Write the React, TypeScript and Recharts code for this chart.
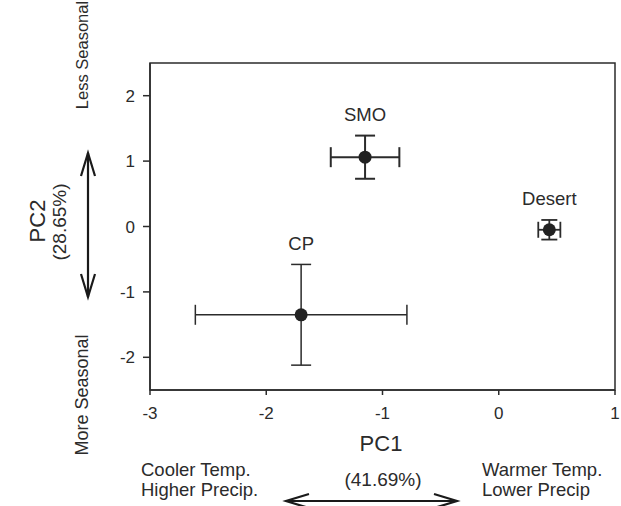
import React from 'react';
import { ScatterChart, Scatter, XAxis, YAxis, ErrorBar, ReferenceArea } from 'recharts';

const sites = ['SMO', 'CP', 'Desert'];
const pc1 = [-1.15, -1.7, 0.435];
const pc2 = [1.06, -1.35, -0.05];
const pc1Err = [0.295, 0.91, 0.095];
const pc2Err = [0.33, 0.77, 0.15];
const errWidths = [2, 1.5, 1.8];
const capWidths = [10, 10, 8];
const xTicks = [-3, -2, -1, 0, 1];
const yTicks = [-2, -1, 0, 1, 2];
const xDomain: [number, number] = [-3, 1];
const yDomain: [number, number] = [-2.5, 2.5];

const FONT = '"Liberation Sans", Arial, Helvetica, sans-serif';
const INK = '#2b2b2b';

const seriesData = sites.map((name, i) => [
  { name, x: pc1[i], y: pc2[i], ex: pc1Err[i], ey: pc2Err[i] },
]);
const labelData = sites.map((name, i) => ({ name, x: pc1[i], y: pc2[i] + pc2Err[i] }));

const Dot = (props: any) => <circle cx={props.cx} cy={props.cy} r={6.5} fill="#222" />;
const LabelShape = (props: any) => (
  <text
    x={props.cx}
    y={props.cy - 21}
    textAnchor="middle"
    dominantBaseline="central"
    fontFamily={FONT}
    fontSize={18.5}
    fill={INK}
  >
    {props.payload.name}
  </text>
);

export default function App() {
  const textStyle = { fontFamily: FONT, fill: INK } as const;
  return (
    <div style={{ position: 'absolute', left: 0, top: 0, width: 621, height: 506, background: '#fff' }}>
      <ScatterChart width={621} height={506} margin={{ top: 63, right: 6, bottom: 0, left: 0 }}>
        <XAxis
          type="number"
          dataKey="x"
          domain={xDomain}
          ticks={xTicks}
          allowDataOverflow
          height={116}
          tickSize={5}
          tickMargin={12}
          axisLine={{ stroke: INK, strokeWidth: 1.5 }}
          tickLine={{ stroke: INK, strokeWidth: 1.5 }}
          tick={{ fontFamily: FONT, fontSize: 17, fill: INK }}
        />
        <YAxis
          type="number"
          dataKey="y"
          domain={yDomain}
          ticks={yTicks}
          allowDataOverflow
          width={150}
          tickSize={7}
          tickMargin={8}
          axisLine={{ stroke: INK, strokeWidth: 1.5 }}
          tickLine={{ stroke: INK, strokeWidth: 1.5 }}
          tick={{ fontFamily: FONT, fontSize: 17, fill: INK }}
        />
        <ReferenceArea
          x1={xDomain[0]}
          x2={xDomain[1]}
          y1={yDomain[0]}
          y2={yDomain[1]}
          fill="none"
          fillOpacity={0}
          stroke={INK}
          strokeWidth={1.5}
          ifOverflow="visible"
        />
        {seriesData.map((d, i) => (
          <Scatter key={sites[i]} data={d} shape={Dot} isAnimationActive={false}>
            <ErrorBar dataKey="ex" direction="x" width={capWidths[i]} stroke={INK} strokeWidth={errWidths[i]} isAnimationActive={false} />
            <ErrorBar dataKey="ey" direction="y" width={capWidths[i]} stroke={INK} strokeWidth={errWidths[i]} isAnimationActive={false} />
          </Scatter>
        ))}
        <Scatter data={labelData} shape={LabelShape} isAnimationActive={false} />

        <text x={381} y={451} textAnchor="middle" fontSize={22} {...textStyle}>PC1</text>
        <text x={383} y={486} textAnchor="middle" fontSize={19} {...textStyle}>(41.69%)</text>
        <text x={141} y={476} fontSize={18.5} {...textStyle}>Cooler Temp.</text>
        <text x={141} y={496} fontSize={18.5} {...textStyle}>Higher Precip.</text>
        <text x={482} y={476} fontSize={18.5} {...textStyle}>Warmer Temp.</text>
        <text x={482} y={496} fontSize={18.5} {...textStyle}>Lower Precip</text>
        <g stroke="#1a1a1a" strokeWidth={2.2} fill="none">
          <line x1={286} y1={501} x2={457} y2={501} />
          <polyline points="309,494 286,501 309,508" />
          <polyline points="434,494 457,501 434,508" />
          <line x1={88} y1={153} x2={88} y2={297} />
          <polyline points="81,176 88,153 95,176" />
          <polyline points="81,274 88,297 95,274" />
        </g>
        <text transform="translate(45,221) rotate(-90)" textAnchor="middle" fontSize={22} {...textStyle}>PC2</text>
        <text transform="translate(66,222) rotate(-90)" textAnchor="middle" fontSize={19} {...textStyle}>(28.65%)</text>
        <text transform="translate(88,55) rotate(-90)" textAnchor="middle" fontSize={16.5} {...textStyle}>Less Seasonal</text>
        <text transform="translate(88,395) rotate(-90)" textAnchor="middle" fontSize={18} {...textStyle}>More Seasonal</text>
      </ScatterChart>
    </div>
  );
}
